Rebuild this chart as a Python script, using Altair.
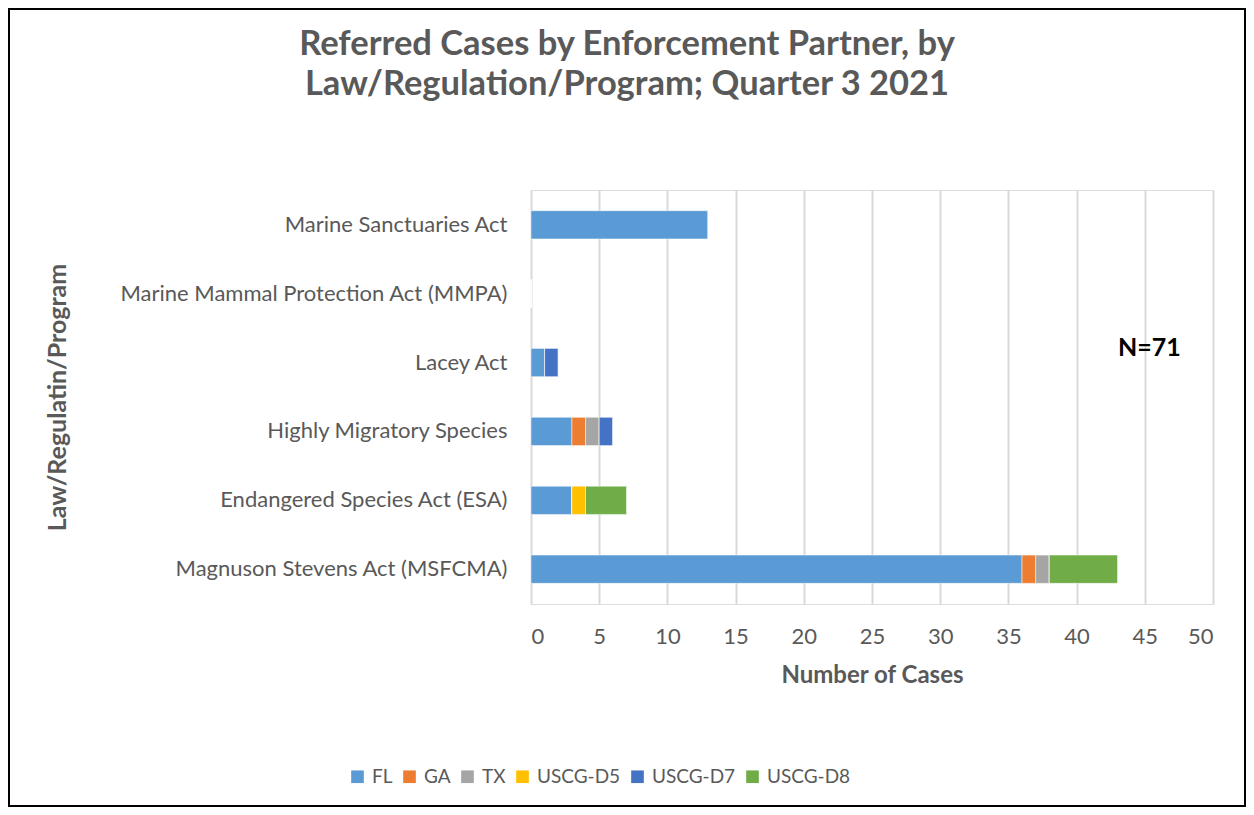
import altair as alt
import pandas as pd

categories = [
    "Marine Sanctuaries Act",
    "Marine Mammal Protection Act (MMPA)",
    "Lacey Act",
    "Highly Migratory Species",
    "Endangered Species Act (ESA)",
    "Magnuson Stevens Act (MSFCMA)",
]
partners = ["FL", "GA", "TX", "USCG-D5", "USCG-D7", "USCG-D8"]
colors = ["#5b9bd5", "#ed7d31", "#a5a5a5", "#ffc000", "#4472c4", "#70ad47"]

fl = [13, 0, 1, 3, 3, 36]
ga = [0, 0, 0, 1, 0, 1]
tx = [0, 0, 0, 1, 0, 1]
uscg_d5 = [0, 0, 0, 0, 1, 0]
uscg_d7 = [0, 0, 1, 1, 0, 0]
uscg_d8 = [0, 0, 0, 0, 3, 5]

x_ticks = [0, 5, 10, 15, 20, 25, 30, 35, 40, 45, 50]

title_lines = ["Referred Cases by Enforcement Partner, by", "Law/Regulation/Program; Quarter 3 2021"]
note_text = ["N=71"]

series = [fl, ga, tx, uscg_d5, uscg_d7, uscg_d8]
rows = []
for pi, (p, vals) in enumerate(zip(partners, series)):
    for c, v in zip(categories, vals):
        rows.append({"Law": c, "Partner": p, "Cases": v, "order": pi})
df = pd.DataFrame(rows)

GRAY = "#595959"
FONT = "Lato"

PW, PH = 682, 414
PAD_L, PAD_T, PAD_R, PAD_B = 523, 182, 33, 203

bars = alt.Chart(df).mark_bar(stroke="white", strokeWidth=0.8, strokeOpacity=0.6).encode(
    x=alt.X(
        "Cases:Q",
        stack="zero",
        scale=alt.Scale(domain=[0, 50], nice=False),
        axis=alt.Axis(
            values=x_ticks,
            title="Number of Cases",
            titleFont=FONT,
            titleFontSize=24,
            titleFontWeight="bold",
            titleColor=GRAY,
            titlePadding=16,
            labelFont=FONT,
            labelFontSize=22,
            labelColor=GRAY,
            labelPadding=22,
            ticks=False,
            domain=False,
            grid=True,
            gridColor="#d9d9d9",
            gridWidth=2,
        ),
    ),
    y=alt.Y(
        "Law:N",
        sort=categories,
        scale=alt.Scale(paddingInner=0.59, paddingOuter=0.3),
        axis=alt.Axis(
            title="Law/Regulatin/Program",
            titleFont=FONT,
            titleFontSize=25,
            titleFontWeight="bold",
            titleColor=GRAY,
            titleX=-474,
            titleY=PH / 2,
            titleAngle=270,
            titleAlign="center",
            titleBaseline="middle",
            labelFont=FONT,
            labelFontSize=22,
            labelColor=GRAY,
            labelPadding=24,
            labelLimit=500,
            ticks=False,
            domain=False,
            grid=False,
        ),
    ),
    color=alt.Color(
        "Partner:N",
        scale=alt.Scale(domain=partners, range=colors),
        legend=alt.Legend(
            title=None,
            orient="none",
            direction="horizontal",
            legendX=-183,
            legendY=577,
            symbolType="square",
            symbolSize=160,
            symbolStrokeWidth=0,
            labelFont=FONT,
            labelFontSize=19,
            labelColor=GRAY,
            columnPadding=7,
            labelOffset=5,
        ),
    ),
    order=alt.Order("order:Q"),
)

title_df = pd.DataFrame({"t": title_lines, "yy": [-145, -105]})
title = alt.Chart(title_df).mark_text(
    font=FONT, fontSize=34.5, fontWeight="bold", color=GRAY, align="center", baseline="middle"
).encode(x=alt.value(96), y=alt.Y("yy:Q", scale=None, axis=None), text="t:N")

note = alt.Chart(pd.DataFrame({"t": note_text})).mark_text(
    font=FONT, fontSize=25, fontWeight="bold", color="black", align="left", baseline="middle"
).encode(x=alt.value(587), y=alt.value(158), text="t:N")

border = alt.Chart(pd.DataFrame({"a": [0]})).mark_rect(
    fill=None, stroke="black", strokeWidth=2, opacity=1
).encode(
    x=alt.value(-PAD_L + 1),
    x2=alt.value(PW + PAD_R - 1),
    y=alt.value(-PAD_T + 1),
    y2=alt.value(PH + PAD_B - 1),
)

chart = (
    alt.layer(border, bars, note, title)
    .resolve_scale(y="independent")
    .properties(
        width=PW,
        height=PH,
        autosize=alt.AutoSizeParams(type="none"),
        padding={"left": PAD_L, "top": PAD_T, "right": PAD_R, "bottom": PAD_B},
    )
    .configure_view(stroke=None)
    .configure(background="white")
)

chart.save("out.html", embed_options={"renderer": "svg", "actions": False})
